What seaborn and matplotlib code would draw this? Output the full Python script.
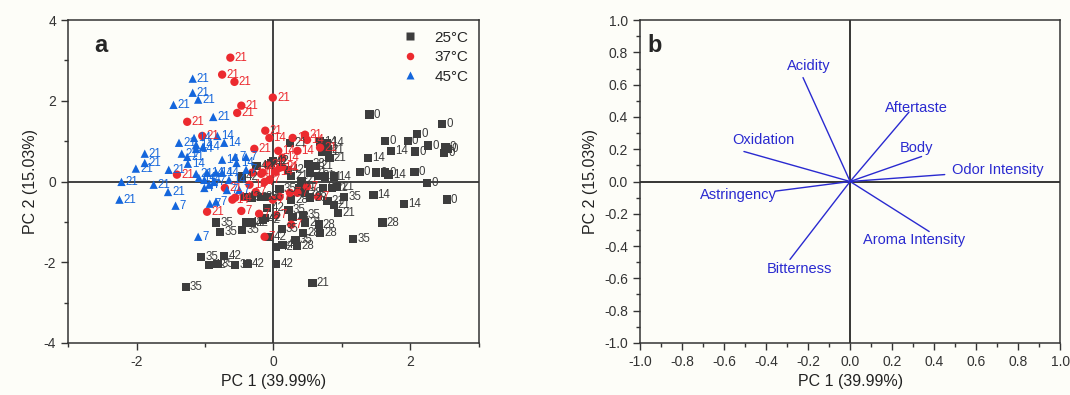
import matplotlib
matplotlib.use("Agg")
from matplotlib import pyplot as plt
from matplotlib.ticker import MultipleLocator
import pandas as pd
import seaborn as sns
import numpy as np

# panel a: PCA scores, labels are storage days
pc1_25 = [1.40, 2.46, 2.10, 1.63, 1.96, 2.26, 2.51, 2.54, 2.49, 1.72, 2.07, 1.38, 1.26, 1.50,
          1.63, 1.68, 2.06, 2.24, 2.53, 1.46, 1.91, 1.59, 1.16, 0.57, 0.24, 0.68, 0.78, 0.71,
          0.79, 0.82, 0.51, 0.21, -0.01, 0.53, 0.65, 0.75, 0.88, 0.41, 0.72, 0.85, 0.93, 1.03,
          0.79, 0.88, 0.94, 0.09, 0.43, 0.46, 0.66, 0.68, 0.43, 0.32, 0.34, 0.13, 0.04, 0.04,
          -0.13, -0.84, -0.78, -1.06, -0.72, -0.94, -0.82, -0.56, -0.38, -1.28, -0.46, -0.40,
          -0.32, -0.15, -0.06, -0.43, -0.32, -0.18, -0.10, -0.46, -0.25, -0.04, -0.09, 0.12,
          0.22, 0.28, 0.26, 0.46, 0.53, 0.38, 0.62, 0.26]
pc2_25 = [1.66, 1.43, 1.18, 1.01, 1.01, 0.89, 0.86, 0.81, 0.71, 0.76, 0.74, 0.59, 0.24, 0.22,
          0.22, 0.17, 0.24, -0.03, -0.45, -0.33, -0.55, -1.02, -1.42, -2.52, 0.96, 0.99, 0.96,
          0.74, 0.79, 0.59, 0.44, 0.29, 0.51, 0.22, 0.14, 0.12, 0.12, 0.02, -0.16, -0.16, -0.13,
          -0.38, -0.48, -0.58, -0.78, -0.18, -0.83, -1.02, -1.07, -1.27, -1.27, -1.45, -1.60,
          -1.57, -1.62, -2.04, -0.90, -1.02, -1.25, -1.87, -1.84, -2.07, -2.04, -2.07, -2.04,
          -2.61, -1.20, -1.02, -1.02, -0.95, -1.37, -0.38, -0.40, -0.38, -0.38, 0.12, 0.39,
          0.46, -0.65, -1.17, -0.70, -0.88, -0.45, -0.28, -0.40, -0.16, 0.39, 0.14]
day_25 = ["0", "0", "0", "0", "0", "0", "0", "0", "0", "14", "0", "14", "0", "0",
          "0", "14", "0", "0", "0", "14", "14", "28", "35", "21", "21", "14", "14", "21",
          "21", "21", "28", "42", "42", "21", "21", "21", "14", "21", "21", "21", "21", "35",
          "21", "21", "21", "35", "35", "21", "28", "28", "28", "35", "28", "42", "42", "42",
          "42", "35", "35", "35", "42", "42", "35", "35", "42", "35", "35", "42",
          "42", "42", "42", "42", "28", "35", "35", "42", "42", "42", "42", "35",
          "35", "28", "28", "28", "28", "21", "21", "21"]

pc1_37 = [-0.63, -0.75, -0.57, -0.47, -0.53, -1.26, -1.04, -0.28, -0.12, -0.06, -0.01, -1.41,
          -0.31, -0.16, -0.71, -0.97, -0.60, -0.56, -0.47, -0.21, -0.13, -0.18, 0.28, 0.46,
          0.49, 0.07, 0.35, 0.13, 0.13, 0.49, 0.65, -0.13, -0.06, 0.04, 0.26, -0.01, 0.09,
          0.24, 0.35, 0.03, 0.09, -0.09, -0.35, 0.68, -0.26]
pc2_37 = [3.07, 2.65, 2.47, 1.88, 1.70, 1.48, 1.13, 0.81, 1.26, 1.08, 2.08, 0.17,
          0.22, 0.22, -0.16, -0.75, -0.45, -0.40, -0.73, -0.80, -1.37, 0.19, 1.08, 1.16,
          1.03, 0.76, 0.76, 0.59, 0.36, -0.13, -0.38, -0.01, 0.04, -0.83, -1.07, -0.45, -0.38,
          -0.28, -0.28, 0.24, 0.34, 0.41, -0.08, 0.84, -0.26]
day_37 = ["21", "21", "21", "21", "21", "21", "21", "21", "21", "14", "21", "21",
          "14", "14", "21", "21", "14", "14", "7", "7", "7", "14", "14", "21",
          "14", "14", "14", "14", "21", "7", "7", "7", "7", "7", "7", "7", "7",
          "7", "7", "14", "14", "21", "14", "21", "7"]

pc1_45 = [-1.18, -1.18, -1.10, -1.46, -0.88, -1.16, -0.82, -0.72, -1.38, -1.13, -1.13, -1.03,
          -1.34, -1.26, -1.25, -1.88, -1.88, -2.01, -1.53, -1.13, -2.22, -1.75, -0.75, -0.56,
          -0.40, -0.54, -0.40, -0.97, -0.84, -0.75, -1.54, -2.25, -1.43, -1.10, -0.84, -0.93,
          -1.01, -0.94, -0.65, -0.87, -0.50, -1.01, -0.68, -1.09]
pc2_45 = [2.55, 2.20, 2.03, 1.90, 1.60, 1.08, 1.13, 0.96, 0.96, 0.91, 0.81, 0.86,
          0.69, 0.61, 0.44, 0.69, 0.46, 0.32, 0.29, 0.19, -0.01, -0.08, 0.54, 0.61,
          0.61, 0.46, 0.29, 0.22, 0.22, 0.22, -0.26, -0.45, -0.60, -1.37, -0.50, -0.55,
          -0.16, -0.08, 0.04, -0.01, -0.21, 0.04, -0.21, 0.09]
day_45 = ["21", "21", "21", "21", "21", "14", "14", "14", "21", "14", "14", "14",
          "21", "21", "14", "21", "21", "21", "21", "21", "21", "21", "14", "7",
          "7", "14", "7", "14", "14", "14", "21", "21", "7", "7", "7", "7",
          "7", "7", "14", "7", "7", "14", "7", "14"]

temps = ["25°C", "37°C", "45°C"]

# panel b: loadings
attributes = ["Acidity", "Aftertaste", "Body", "Odor Intensity", "Oxidation",
              "Astringency", "Bitterness", "Aroma Intensity"]
load_pc1 = [-0.224, 0.28, 0.34, 0.45, -0.505, -0.357, -0.286, 0.376]
load_pc2 = [0.644, 0.43, 0.155, 0.043, 0.186, -0.06, -0.483, -0.31]

scores = pd.DataFrame({
    "PC1": pc1_25 + pc1_37 + pc1_45,
    "PC2": pc2_25 + pc2_37 + pc2_45,
    "day": day_25 + day_37 + day_45,
    "temp": [temps[0]] * len(pc1_25) + [temps[1]] * len(pc1_37) + [temps[2]] * len(pc1_45),
})

sns.set_style("ticks")
plt.rcParams["font.family"] = ["Liberation Sans", "DejaVu Sans"]
plt.rcParams["axes.unicode_minus"] = False

colors = {"25°C": "#3d3d3d", "37°C": "#ec2a2f", "45°C": "#1466dc"}
markers = {"25°C": "s", "37°C": "o", "45°C": "^"}
bg = "#fdfdf8"

fig = plt.figure(figsize=(10.7, 3.95), dpi=100, facecolor=bg)
ax1 = fig.add_axes([0.0636, 0.132, 0.384, 0.817])
ax2 = fig.add_axes([0.598, 0.132, 0.393, 0.817])

for ax in (ax1, ax2):
    ax.set_facecolor(bg)
    for s in ax.spines.values():
        s.set_visible(True)
        s.set_color("#333333")
        s.set_linewidth(1.1)
    ax.tick_params(which="both", direction="out", colors="#333333", labelsize=10, width=1)
    ax.tick_params(which="major", length=5)
    ax.tick_params(which="minor", length=3)

# ---- panel a
ax1.axhline(0, color="#333333", lw=1.3, zorder=1)
ax1.axvline(0, color="#333333", lw=1.3, zorder=1)
sns.scatterplot(data=scores, x="PC1", y="PC2", hue="temp", style="temp", palette=colors,
                markers=markers, s=36, edgecolor="none", ax=ax1, zorder=3)
for _, r in scores.iterrows():
    ax1.annotate(r["day"], (r["PC1"], r["PC2"]), xytext=(3, 0), textcoords="offset points",
                 va="center", ha="left", fontsize=8.3, color=colors[r["temp"]], zorder=4)
ax1.set_xlim(-3, 3)
ax1.set_ylim(-4, 4)
ax1.xaxis.set_major_locator(MultipleLocator(2))
ax1.xaxis.set_minor_locator(MultipleLocator(1))
ax1.yaxis.set_major_locator(MultipleLocator(2))
ax1.yaxis.set_minor_locator(MultipleLocator(1))
ax1.set_xlabel("PC 1 (39.99%)", fontsize=11.5, color="#222222")
ax1.set_ylabel("PC 2 (15.03%)", fontsize=11.5, color="#222222")
leg = ax1.legend(loc="upper right", frameon=False, fontsize=11, handletextpad=0.6,
                 markerscale=0.9, labelspacing=0.35, borderaxespad=0.3)
ax1.text(0.08, 0.92, "a", transform=ax1.transAxes, fontsize=17, fontweight="bold",
         va="center", ha="center")

# ---- panel b
ax2.axhline(0, color="black", lw=1.1, zorder=1)
ax2.axvline(0, color="black", lw=1.1, zorder=1)
line_col = "#2a2ad0"
text_pos = {
    "Acidity": ((4, 3), "center", "bottom"),
    "Aftertaste": ((5, 3), "center", "center"),
    "Body": ((-4, 1), "center", "bottom"),
    "Odor Intensity": ((5, 3), "left", "center"),
    "Oxidation": ((14, 3), "center", "bottom"),
    "Astringency": ((1, -3), "right", "center"),
    "Bitterness": ((7, -2), "center", "top"),
    "Aroma Intensity": ((-11, -1), "center", "top"),
}
for name, lx, ly in zip(attributes, load_pc1, load_pc2):
    ax2.plot([0, lx], [0, ly], color=line_col, lw=1.0, zorder=2)
    off, ha, va = text_pos[name]
    ax2.annotate(name, (lx, ly), xytext=off, textcoords="offset points", ha=ha, va=va,
                 fontsize=10.5, color=line_col, zorder=3)
ax2.set_xlim(-1, 1)
ax2.set_ylim(-1, 1)
ax2.xaxis.set_major_locator(MultipleLocator(0.2))
ax2.xaxis.set_minor_locator(MultipleLocator(0.1))
ax2.yaxis.set_major_locator(MultipleLocator(0.2))
ax2.yaxis.set_minor_locator(MultipleLocator(0.1))
ax2.xaxis.set_major_formatter(lambda v, p: f"{v:.1f}")
ax2.yaxis.set_major_formatter(lambda v, p: f"{v:.1f}")
ax2.set_xlabel("PC 1 (39.99%)", fontsize=11.5, color="#222222")
ax2.set_ylabel("PC 2 (15.03%)", fontsize=11.5, color="#222222")
ax2.text(0.035, 0.92, "b", transform=ax2.transAxes, fontsize=17, fontweight="bold",
         va="center", ha="center")

fig.savefig("out.png", dpi=100, facecolor=bg)
